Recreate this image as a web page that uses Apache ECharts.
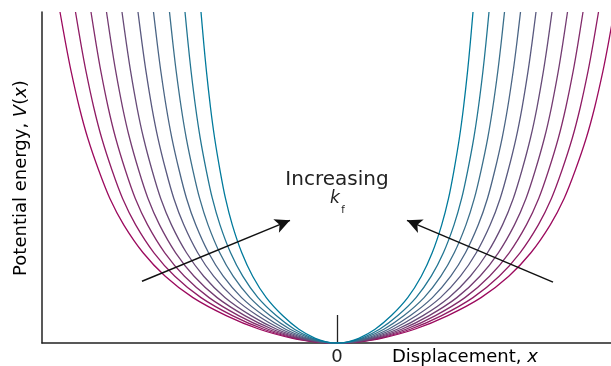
<!DOCTYPE html>
<html>
<head>
<meta charset="utf-8">
<script src="https://cdn.jsdelivr.net/npm/echarts@6/dist/echarts.min.js"></script>
<style>
html, body { margin: 0; padding: 0; background: #fff; }
#chart { width: 611px; height: 366px; }
</style>
</head>
<body>
<div id="chart"></div>
<script>
// widest curve: distance from the origin and height
var profileX = [277.7, 272.1, 266.6, 258.3, 249.9, 238.8, 227.7, 213.8, 194.4, 172.2, 144.4, 111.1, 77.8, 44.4, 22.2, 0];
var profileV = [332, 300.7, 272.6, 236.2, 205.6, 173, 145, 118.5, 90.5, 67, 45.5, 27.5, 13.8, 4.6, 1.2, 0];
// half-width of each curve where it leaves the top of the plot (smallest kf first)
var halfWidths = [277, 261.5, 246, 230.5, 215, 199, 183.5, 167.5, 152, 136];
// "increasing kf" arrows, tail -> head
var arrows = [
    [[-195, 62], [-47, 123]],
    [[216, 61], [70, 123]]
];

var colors = ['#9c0a5e', '#8f1b64', '#822c6b', '#743c72', '#674b78',
              '#59597f', '#4b6585', '#3b6f8b', '#227693', '#007a9c'];
var textColor = '#222';
var font = 'DejaVu Sans';

var myChart = echarts.init(document.getElementById('chart'));

var series = halfWidths.map(function (w, i) {
    var s = w / profileX[0];
    var pts = [];
    for (var j = 0; j < profileX.length; j++) {
        pts.push([-profileX[j] * s, profileV[j]]);
    }
    for (var j = profileX.length - 2; j >= 0; j--) {
        pts.push([profileX[j] * s, profileV[j]]);
    }
    return {
        type: 'line',
        data: pts,
        smooth: 0.3,
        showSymbol: false,
        silent: true,
        lineStyle: { color: colors[i], width: 1.3 }
    };
});

series[0].markLine = {
    silent: true,
    symbol: ['none', 'arrow'],
    symbolSize: [11, 15],
    label: { show: false },
    lineStyle: { color: '#111', width: 1.5, type: 'solid' },
    data: arrows.map(function (a) {
        return [{ coord: a[0] }, { coord: a[1] }];
    })
};

myChart.setOption({
    animation: false,
    grid: { left: 42, right: 0, top: 12, bottom: 22 },
    xAxis: {
        type: 'value',
        min: -295,
        max: 274,
        splitLine: { show: false },
        axisLine: { show: true, onZero: false, lineStyle: { color: '#222', width: 1.5 } },
        axisTick: { show: true, customValues: [0], inside: true, length: 28,
                    lineStyle: { color: '#222', width: 1.3 } },
        axisLabel: { customValues: [0], fontSize: 18, fontFamily: font,
                     color: textColor, margin: 5 }
    },
    yAxis: {
        type: 'value',
        min: 0,
        max: 332,
        splitLine: { show: false },
        axisLine: { show: true, onZero: false, lineStyle: { color: '#222', width: 1.5 } },
        axisTick: { show: false },
        axisLabel: { show: false }
    },
    graphic: [
        {
            type: 'text', x: 337, y: 180,
            style: { text: 'Increasing', font: '20px "DejaVu Sans"', fill: textColor,
                     align: 'center', verticalAlign: 'middle' }
        },
        {
            type: 'text', x: 335, y: 199,
            style: { text: 'k', font: 'italic 17px "DejaVu Sans"', fill: textColor,
                     align: 'center', verticalAlign: 'middle' }
        },
        {
            type: 'text', x: 343, y: 210,
            style: { text: 'f', font: '10px "DejaVu Sans"', fill: textColor,
                     align: 'center', verticalAlign: 'middle' }
        },
        {
            type: 'text', x: 392, y: 357,
            style: {
                text: '{n|Displacement, }{i|x}',
                align: 'left', verticalAlign: 'middle',
                rich: {
                    n: { fontSize: 18, fontFamily: font, color: textColor },
                    i: { fontSize: 18, fontFamily: font, fontStyle: 'italic', color: textColor }
                }
            }
        },
        {
            type: 'text', x: 21, y: 178, rotation: Math.PI / 2,
            style: {
                text: '{n|Potential energy, }{i|V}{n|(}{i|x}{n|)}',
                align: 'center', verticalAlign: 'middle',
                rich: {
                    n: { fontSize: 18, fontFamily: font, color: textColor },
                    i: { fontSize: 18, fontFamily: font, fontStyle: 'italic', color: textColor }
                }
            }
        }
    ],
    series: series
});
</script>
</body>
</html>
